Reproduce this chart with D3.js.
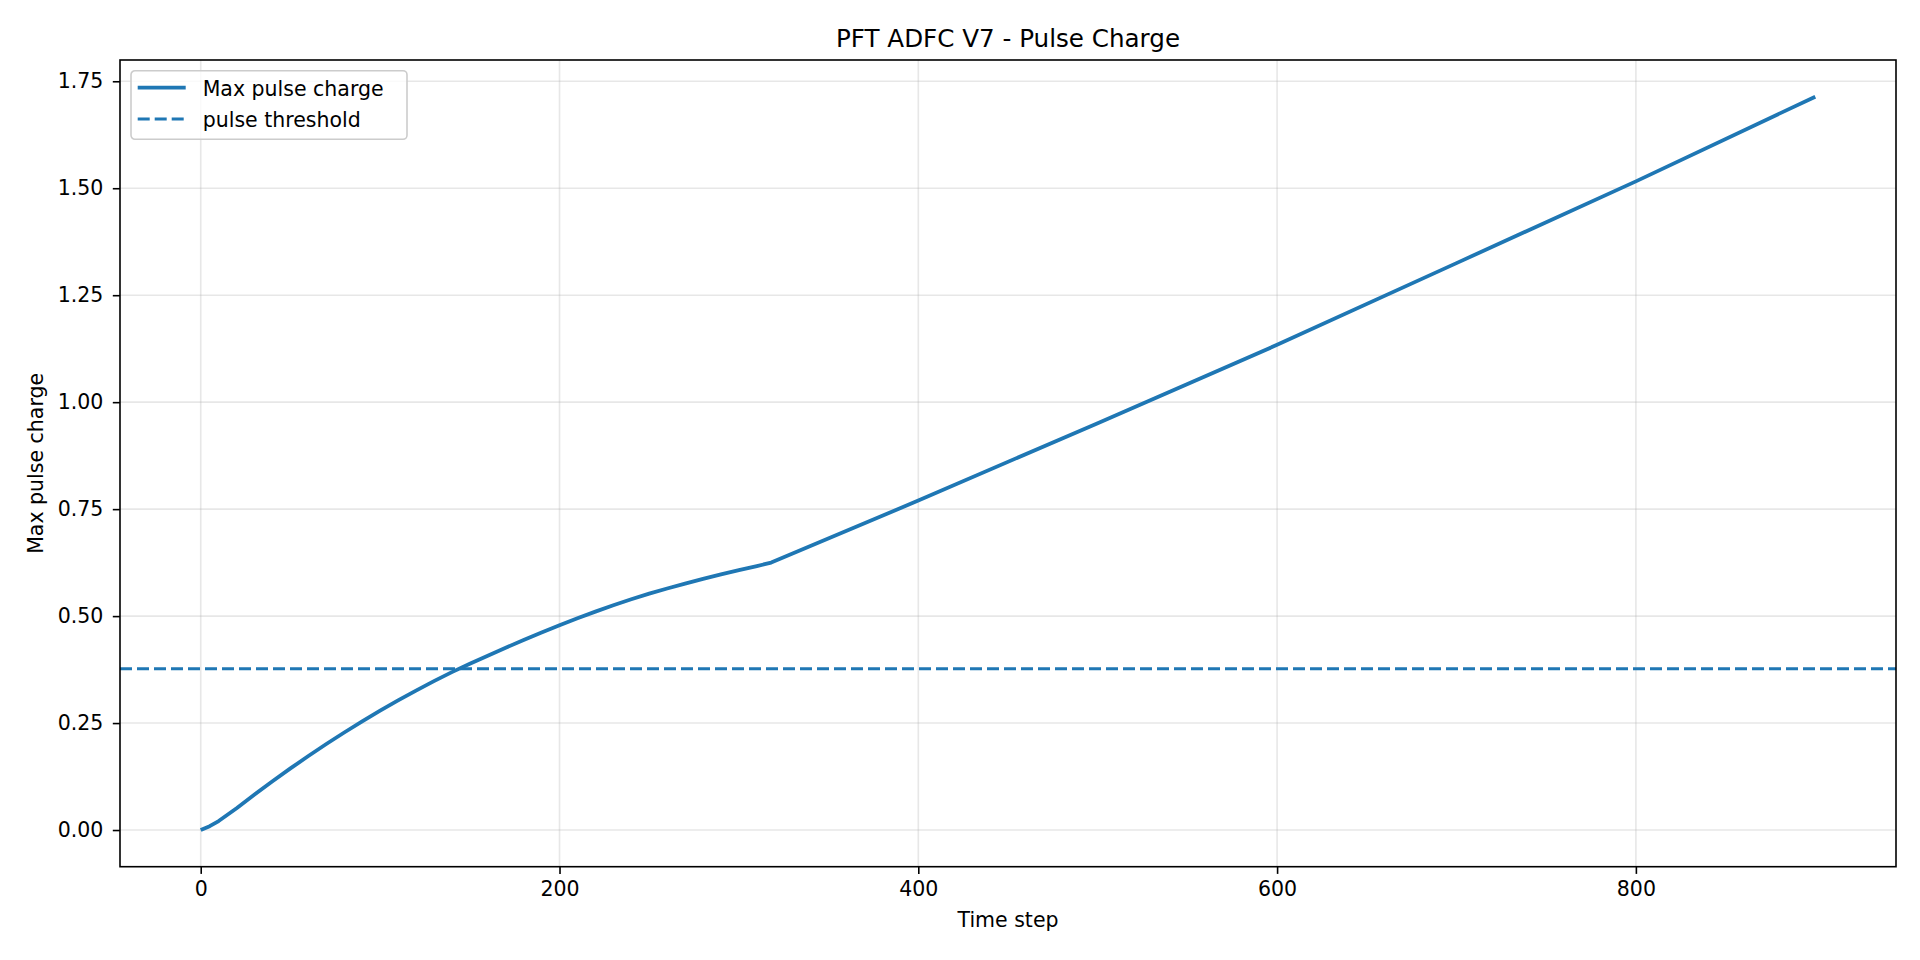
<!DOCTYPE html>
<html>
<head>
<meta charset="utf-8">
<script src="https://cdn.jsdelivr.net/npm/d3@7"></script>
<style>
  html, body { margin: 0; padding: 0; background: #fff; }
  svg { display: block; font-family: "DejaVu Sans", sans-serif; }
</style>
</head>
<body>
<svg id="chart" width="1920" height="960"></svg>
<script>
// values
const steps  = [0, 5, 10, 20, 30, 40, 50, 60, 70, 80, 90, 100, 110, 120, 130, 140, 150, 160, 170, 180, 190, 200,
                210, 220, 230, 240, 250, 260, 270, 280, 290, 300, 310, 318, 400, 500, 600, 700, 800, 900];
const charge = [0, 0.009, 0.021, 0.051, 0.083, 0.114, 0.144, 0.173, 0.201, 0.228, 0.254, 0.279, 0.303, 0.326, 0.348,
                0.369, 0.3885, 0.4075, 0.426, 0.444, 0.4615, 0.4785, 0.495, 0.5105, 0.5255, 0.5395, 0.5525, 0.5645,
                0.576, 0.587, 0.5975, 0.6075, 0.617, 0.625, 0.770, 0.951, 1.134, 1.325, 1.516, 1.714];
const threshold = 0.377;
const xTicks = [0, 200, 400, 600, 800];
const yTicks = [0, 0.25, 0.5, 0.75, 1.0, 1.25, 1.5, 1.75];
const legendItems = ['Max pulse charge', 'pulse threshold'];

const W = 1920, H = 960;
const margin = {left: 120, right: 24, top: 60, bottom: 93.3};
const iw = W - margin.left - margin.right;
const ih = H - margin.top - margin.bottom;
const blue = '#1f77b4';
const tickFont = 20.5;

// matplotlib style 5% padding on data extent
function padded(ext) {
    const p = (ext[1] - ext[0]) * 0.05;
    return [ext[0] - p, ext[1] + p];
}

const x = d3.scaleLinear().domain(padded(d3.extent(steps))).range([0, iw]);
const y = d3.scaleLinear().domain(padded(d3.extent(charge))).range([ih, 0]);

const svg = d3.select('#chart');
const g = svg.append('g').attr('transform', `translate(${margin.left},${margin.top})`);

// grid
g.append('g').selectAll('line').data(xTicks).enter().append('line')
    .attr('x1', d => x(d)).attr('x2', d => x(d)).attr('y1', 0).attr('y2', ih)
    .attr('stroke', '#b0b0b0').attr('stroke-opacity', 0.3).attr('stroke-width', 1.6);
g.append('g').selectAll('line').data(yTicks).enter().append('line')
    .attr('y1', d => y(d)).attr('y2', d => y(d)).attr('x1', 0).attr('x2', iw)
    .attr('stroke', '#b0b0b0').attr('stroke-opacity', 0.3).attr('stroke-width', 1.6);

// threshold line
g.append('line')
    .attr('x1', 0).attr('x2', iw).attr('y1', y(threshold)).attr('y2', y(threshold))
    .attr('stroke', blue).attr('stroke-width', 3.1).attr('stroke-dasharray', '12,5');

// data line
const line = d3.line().x((d, i) => x(steps[i])).y(d => y(d));
g.append('path').datum(charge)
    .attr('d', line).attr('fill', 'none')
    .attr('stroke', blue).attr('stroke-width', 3.8)
    .attr('stroke-linejoin', 'round').attr('stroke-linecap', 'butt');

// axes
const xAxis = g.append('g').attr('transform', `translate(0,${ih})`)
    .call(d3.axisBottom(x).tickValues(xTicks).tickFormat(d3.format('d')).tickSize(7.2).tickSizeOuter(0).tickPadding(8));
const yAxis = g.append('g')
    .call(d3.axisLeft(y).tickValues(yTicks).tickFormat(d3.format('.2f')).tickSize(7.2).tickSizeOuter(0).tickPadding(9.5));
[xAxis, yAxis].forEach(a => {
    a.select('.domain').remove();
    a.selectAll('line').attr('stroke', '#000').attr('stroke-width', 1.6);
    a.selectAll('text').attr('font-size', tickFont).attr('fill', '#000')
        .attr('font-family', '"DejaVu Sans", sans-serif');
});

// spines
g.append('rect').attr('x', 0).attr('y', 0).attr('width', iw).attr('height', ih)
    .attr('fill', 'none').attr('stroke', '#000').attr('stroke-width', 1.6);

// title and labels
svg.append('text').attr('x', margin.left + iw / 2).attr('y', 46.7)
    .attr('text-anchor', 'middle').attr('font-size', 24.6).text('PFT ADFC V7 - Pulse Charge');
svg.append('text').attr('x', margin.left + iw / 2).attr('y', 926.7)
    .attr('text-anchor', 'middle').attr('font-size', tickFont).text('Time step');
svg.append('text').attr('transform', `translate(42.7,${margin.top + ih / 2}) rotate(-90)`)
    .attr('text-anchor', 'middle').attr('font-size', tickFont).text('Max pulse charge');

// legend
const lg = svg.append('g').attr('transform', 'translate(131,70.7)');
lg.append('rect').attr('width', 276).attr('height', 68.6).attr('rx', 4)
    .attr('fill', '#fff').attr('fill-opacity', 0.8)
    .attr('stroke', '#cccccc').attr('stroke-width', 1.6);
legendItems.forEach((name, i) => {
    const ly = 17 + i * 31.3;
    lg.append('line').attr('x1', 6.7).attr('x2', 54.7).attr('y1', ly).attr('y2', ly)
        .attr('stroke', blue).attr('stroke-width', i == 0 ? 3.8 : 3.1)
        .attr('stroke-dasharray', i == 0 ? null : '12,5');
    lg.append('text').attr('x', 71.7).attr('y', ly + 8).attr('font-size', tickFont).text(name);
});
</script>
</body>
</html>
